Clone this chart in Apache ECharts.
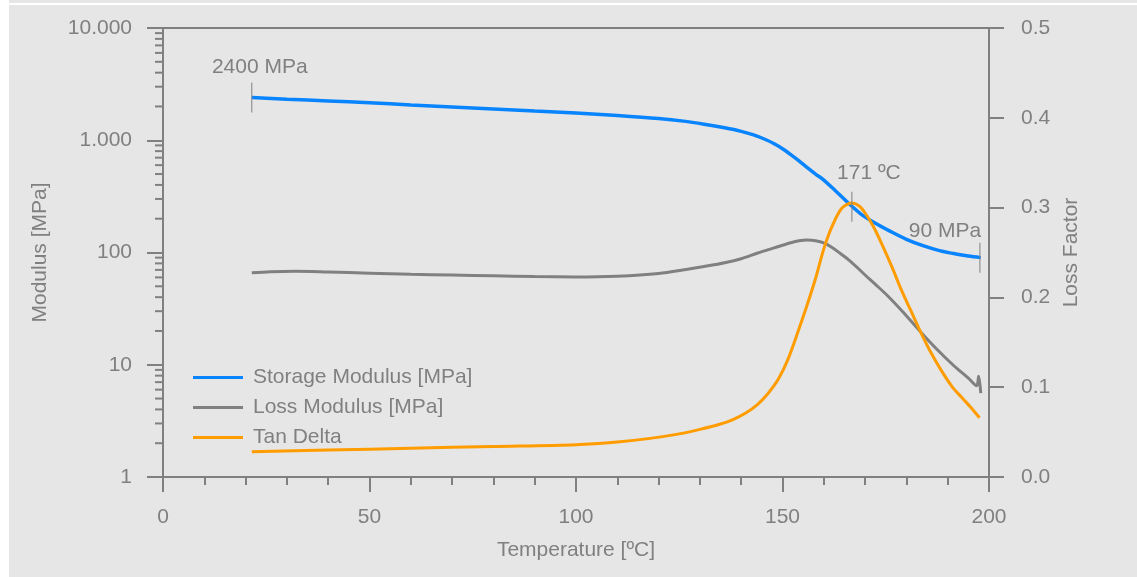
<!DOCTYPE html>
<html>
<head>
<meta charset="utf-8">
<script src="https://cdn.jsdelivr.net/npm/echarts@6/dist/echarts.min.js"></script>
<style>
  html, body { margin: 0; padding: 0; background: #fff; }
  #band { position: absolute; left: 9px; top: 0; width: 1128px; height: 3px; background: #e6e6e6; }
  #chart { position: absolute; left: 9px; top: 5px; width: 1128px; height: 572px; background: #e6e6e6; }
</style>
</head>
<body>
<div id="band"></div>
<div id="chart"></div>
<script>
// Storage modulus [MPa]
const storageTemp = [21.5, 30, 40, 50, 60, 70, 80, 90, 100, 110, 120, 126, 131, 136, 140, 143, 146, 148, 150, 152, 154, 156, 158, 160, 163, 166.5, 169, 172.5, 176, 180, 184, 188, 192, 195, 198];
const storageValues = [2400, 2320, 2240, 2160, 2060, 1980, 1900, 1820, 1750, 1660, 1560, 1480, 1390, 1290, 1200, 1115, 1010, 930, 840, 745, 655, 570, 500, 442, 350, 264, 220, 182, 155, 131, 115, 104, 97, 93, 90];

// Loss modulus [MPa]
const lossTemp = [21.5, 26, 32, 40, 50, 60, 70, 80, 90, 100, 110, 120, 127, 131, 136, 140, 144, 148, 152, 154, 156, 158, 160, 162, 164, 166, 168, 170, 172.5, 175.5, 179, 183.5, 187.5, 191.5, 195, 197, 197.5, 198];
const lossValues = [66, 67.5, 68, 67, 65.5, 64, 63, 62, 61, 60.5, 61.5, 65, 71, 75, 81, 88, 99, 110, 122, 127, 129, 127.5, 122, 111, 98, 86, 74, 63, 52, 41, 30, 19.5, 13.6, 9.8, 7.6, 6.5, 7.9, 5.6];

// Tan delta (loss factor)
const tanTemp = [21.5, 40, 60, 80, 100, 110, 118, 125, 130, 135, 138, 141, 144, 146.5, 149, 151.5, 154, 156, 158, 160, 162, 164.3, 166.7, 168.5, 170, 172, 174, 176.5, 178.8, 181, 183.6, 186, 188.4, 191, 193.3, 195.5, 197.7];
const tanValues = [0.028, 0.030, 0.032, 0.034, 0.036, 0.039, 0.043, 0.048, 0.053, 0.059, 0.064, 0.071, 0.081, 0.093, 0.109, 0.133, 0.165, 0.192, 0.221, 0.254, 0.279, 0.299, 0.305, 0.302, 0.294, 0.279, 0.260, 0.234, 0.208, 0.186, 0.160, 0.138, 0.119, 0.101, 0.089, 0.078, 0.066];

const seriesNames = ['Storage Modulus [MPa]', 'Loss Modulus [MPa]', 'Tan Delta'];
const annotations = [
    { temp: 21.5, value: 2400, text: '2400 MPa', dx: 8, dy: 5 },
    { temp: 166.8, value: 255, text: '171 ºC', dx: 17, dy: 8 },
    { temp: 197.8, value: 90, text: '90 MPa', dx: -35, dy: 1 }
];

const grey = '#808080';
const font = 'Liberation Sans';
const fs = 21;

function pairs(xs, ys) {
    return xs.map((x, i) => [x, ys[i]]);
}

function dotted(v) {
    return String(v).replace(/\B(?=(\d{3})+(?!\d))/g, '.');
}

const chart = echarts.init(document.getElementById('chart'));

const option = {
    animation: false,
    backgroundColor: 'transparent',
    textStyle: { fontFamily: font },
    grid: {
        left: 154, top: 23, right: 148, bottom: 100,
        show: true, borderColor: grey, borderWidth: 2, backgroundColor: 'transparent'
    },
    legend: {
        orient: 'vertical',
        left: 179,
        top: 357,
        icon: 'rect',
        itemWidth: 50,
        itemHeight: 3,
        itemGap: 9,
        data: seriesNames,
        textStyle: { color: grey, fontSize: fs, fontFamily: font, lineHeight: 21, padding: [0, 0, 0, 5] }
    },
    xAxis: {
        type: 'value',
        min: 0, max: 200, interval: 50,
        name: 'Temperature [ºC]',
        nameLocation: 'middle',
        nameGap: 63,
        nameTextStyle: { color: grey, fontSize: fs, fontFamily: font },
        axisLine: { show: true, lineStyle: { color: grey, width: 2 } },
        axisTick: { show: true, length: 15, lineStyle: { color: grey, width: 2 } },
        minorTick: { show: true, splitNumber: 5, length: 8, lineStyle: { color: grey, width: 2 } },
        axisLabel: { color: grey, fontSize: fs, fontFamily: font, margin: 30 },
        splitLine: { show: false }
    },
    yAxis: [{
        type: 'log',
        logBase: 10,
        min: 1, max: 10000,
        splitNumber: 4,
        position: 'left',
        name: 'Modulus [MPa]',
        nameLocation: 'middle',
        nameRotate: 90,
        nameGap: 112,
        nameTextStyle: { color: grey, fontSize: fs, fontFamily: font },
        axisLine: { show: true, lineStyle: { color: grey, width: 2 } },
        axisTick: { show: true, length: 16, lineStyle: { color: grey, width: 2 } },
        axisLabel: { color: grey, fontSize: fs, fontFamily: font, margin: 31, formatter: v => dotted(v) },
        splitLine: { show: false }
    }, {
        type: 'value',
        min: 0, max: 0.5, interval: 0.1,
        position: 'right',
        name: 'Loss Factor',
        nameLocation: 'middle',
        nameRotate: 90,
        nameGap: 72,
        nameTextStyle: { color: grey, fontSize: fs, fontFamily: font },
        axisLine: { show: true, lineStyle: { color: grey, width: 2 } },
        axisTick: { show: true, length: 15, lineStyle: { color: grey, width: 2 } },
        axisLabel: { color: grey, fontSize: fs, fontFamily: font, margin: 32, formatter: v => v.toFixed(1) },
        splitLine: { show: false }
    }],
    series: [{
        name: seriesNames[0],
        type: 'line',
        yAxisIndex: 0,
        smooth: 0.3,
        symbol: 'none',
        color: '#0984ff',
        lineStyle: { width: 3.5, color: '#0984ff' },
        data: pairs(storageTemp, storageValues),
        markPoint: {
            symbol: 'rect',
            symbolSize: [1, 30],
            itemStyle: { color: grey },
            data: annotations.map(a => ({
                coord: [a.temp, a.value],
                label: {
                    show: true,
                    position: 'top',
                    distance: 0,
                    offset: [a.dx, -a.dy],
                    formatter: a.text,
                    color: grey,
                    fontSize: fs,
                    fontFamily: font
                }
            }))
        }
    }, {
        name: seriesNames[1],
        type: 'line',
        yAxisIndex: 0,
        smooth: 0.3,
        symbol: 'none',
        color: grey,
        lineStyle: { width: 3, color: grey },
        data: pairs(lossTemp, lossValues)
    }, {
        name: seriesNames[2],
        type: 'line',
        yAxisIndex: 1,
        smooth: 0.3,
        symbol: 'none',
        color: '#ff9c00',
        lineStyle: { width: 3, color: '#ff9c00' },
        data: pairs(tanTemp, tanValues)
    }]
};

chart.setOption(option);

// log minor ticks (2..9 in each decade), placed through the axis scale
const x0 = chart.convertToPixel({ xAxisIndex: 0 }, 0);
const minorTicks = [];
for (const d of [1, 10, 100, 1000]) {
    for (let k = 2; k <= 9; k++) {
        const y = chart.convertToPixel({ yAxisIndex: 0 }, d * k);
        minorTicks.push({
            type: 'line',
            shape: { x1: x0 - 8, y1: y, x2: x0, y2: y },
            style: { stroke: grey, lineWidth: 2 }
        });
    }
}
chart.setOption({ graphic: minorTicks });
</script>
</body>
</html>
